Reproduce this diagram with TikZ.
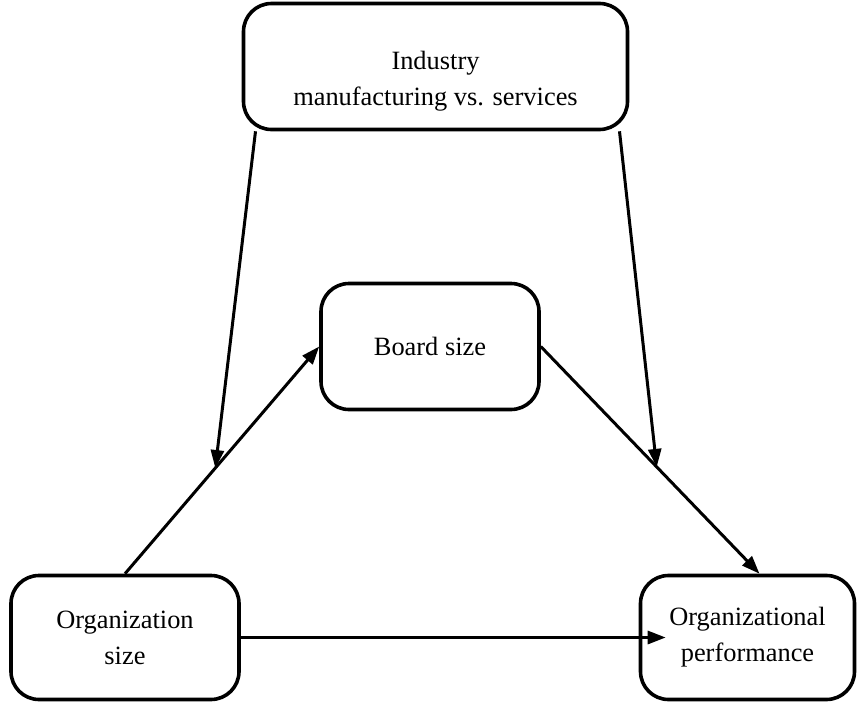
\documentclass[tikz,border=0pt]{standalone}
\usepackage{fontspec}
\setmainfont{Liberation Serif}
\usepackage{tikz}
\usetikzlibrary{arrows.meta}

\tikzset{
    box/.style = {draw=black, line width=1.8pt, rounded corners=14pt, align=center,
                  font={\fontsize{13.2}{18}\selectfont}},
    link/.style = {line width=1.5pt, -{Triangle[length=9pt,width=6.5pt]}}
}

\begin{document}
\begin{tikzpicture}[x=0.5pt, y=-0.5pt]
        \useasboundingbox (0, 0) rectangle (857, 702);

        % the four variables
        \node[box, minimum width=192pt, minimum height=63pt] (industry) at (435.5, 66.5) {\rule{0pt}{24pt}Industry\\manufacturing vs. services};
        \node[box, minimum width=109pt, minimum height=63pt] (board) at (430, 346.5) {Board size};
        \node[box, minimum width=114pt, minimum height=62pt] (orgsize) at (125, 637.5) {Organization\\size};
        \node[box, minimum width=107pt, minimum height=62pt] (orgperf) at (747.5, 637.5) {Organizational\\performance};

        % paths through board size
        \draw[link] (orgsize.north) -- coordinate[pos=0.465] (modleft) (board.west);
        \draw[link] (board.east) -- coordinate[pos=0.53] (modright) ([xshift=6pt]orgperf.north);

        % direct path
        \draw[link] (orgsize.east) -- ([xshift=13.5pt]orgperf.west);

        % industry moderates both links
        \draw[link] ([xshift=-90pt]industry.south) -- (modleft);
        \draw[link] ([xshift=92pt]industry.south) -- (modright);
    \end{tikzpicture}
\end{document}
